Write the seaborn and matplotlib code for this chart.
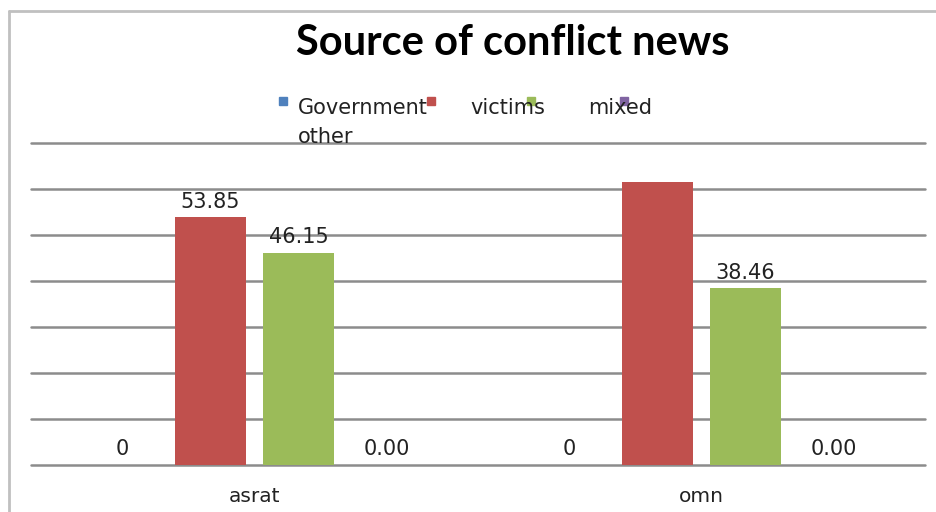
import matplotlib
matplotlib.use("Agg")
import matplotlib.pyplot as plt
from matplotlib.lines import Line2D
from matplotlib.patches import Rectangle
import seaborn as sns
import pandas as pd

categories = ["asrat", "omn"]
series = ["Government", "victims", "mixed", "other"]
government = [0, 0]
victims = [53.85, 61.54]
mixed = [46.15, 38.46]
other = [0.0, 0.0]
label_text = {
    "Government": ["0", "0"],
    "victims": ["53.85", ""],
    "mixed": ["46.15", "38.46"],
    "other": ["0.00", "0.00"],
}
colors = ["#4F81BD", "#C0504D", "#9BBB59", "#8064A2"]
title = "Source of conflict news"

values = {"Government": government, "victims": victims, "mixed": mixed, "other": other}
rows = []
for s in series:
    for c, v in zip(categories, values[s]):
        rows.append({"category": c, "series": s, "value": v})
df = pd.DataFrame(rows)

sns.set_theme(style="white")
plt.rcParams["font.family"] = ["DejaVu Sans"]

W, H = 937, 512
fig = plt.figure(figsize=(W / 100, H / 100), dpi=100)
ax = fig.add_axes([31 / W, 1 - 465 / H, (925 - 31) / W, (465 - 143) / H])

sns.barplot(data=df, x="category", y="value", hue="series", hue_order=series,
            order=categories, palette=colors, width=0.79, gap=0.2,
            ax=ax, legend=False, saturation=1, errorbar=None, linewidth=0)

ax.set_ylim(0, 70)
ax.set_yticks(range(0, 71, 10))
ax.set_yticklabels([])
ax.yaxis.grid(True, color="#8c8c8c", linewidth=1.8)
for gl in ax.get_ygridlines():
    gl.set_clip_on(False)
ax.set_axisbelow(True)
for sp in ax.spines.values():
    sp.set_visible(False)
ax.set_xlabel("")
ax.set_ylabel("")
ax.tick_params(axis="x", length=0, pad=16, labelsize=14.5, labelcolor="#222222")
ax.tick_params(axis="y", length=0)

for cont, s in zip(ax.containers, series):
    ax.bar_label(cont, labels=label_text[s], padding=4, fontsize=15, color="#222222")

# title
fig.text(513 / W, 1 - 43 / H, title, ha="center", va="center",
         fontsize=30, fontweight="bold", family=["Lato", "DejaVu Sans"], color="#000000")

# legend (manual, matching the wrapped layout)
sq = 8
for x0, col in zip([279, 427, 527, 620], colors):
    fig.add_artist(Rectangle((x0 / W, 1 - 105 / H), sq / W, sq / H,
                             transform=fig.transFigure, color=col))
for txt, x0, yc in [("Government", 298, 108), ("victims", 470, 108),
                    ("mixed", 588, 108), ("other", 298, 137)]:
    fig.text(x0 / W, 1 - yc / H, txt, ha="left", va="center", fontsize=15,
             color="#222222")

# outer frame (partial, as in the reference)
fig.add_artist(Line2D([9.5 / W, 9.5 / W], [0, 1 - 11 / H], transform=fig.transFigure,
                      color="#c0c0c0", linewidth=2))
fig.add_artist(Line2D([9.5 / W, 1], [1 - 11 / H, 1 - 11 / H], transform=fig.transFigure,
                      color="#c0c0c0", linewidth=2))

fig.savefig("out.png", dpi=100)
